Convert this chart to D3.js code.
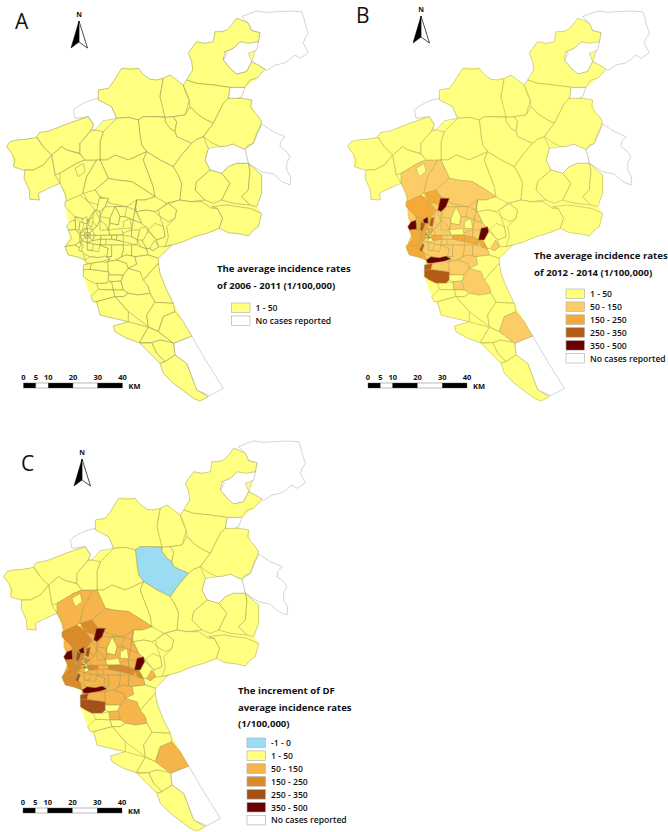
<!DOCTYPE html>
<html>
<head>
<meta charset="utf-8">
<script src="https://cdn.jsdelivr.net/npm/d3@7"></script>
<style>
  body { margin: 0; background: #fff; }
  text { font-family: "Open Sans", "Noto Sans", sans-serif; fill: #111; }
</style>
</head>
<body>
<div id="map"></div>
<script>
// map outlines, in map units (3 units = 1 px of panel A)
const landOutline = [[20,440],[30,425],[48,420],[75,418],[95,415],[112,410],[118,398],[150,392],[168,385],[200,372],[235,358],[265,348],[280,345],[295,300],[295,270],[325,265],[340,245],[352,225],[365,205],[385,200],[415,205],[428,222],[450,238],[490,235],[510,225],[530,240],[550,255],[560,240],[578,210],[575,185],[565,160],[590,125],[615,130],[640,125],[645,95],[680,90],[700,70],[710,55],[745,70],[755,92],[780,98],[775,125],[770,180],[795,208],[770,235],[735,262],[725,295],[755,300],[760,335],[785,365],[760,430],[735,448],[745,490],[785,525],[785,580],[770,620],[785,640],[775,680],[760,690],[745,708],[720,702],[685,698],[658,685],[640,695],[620,700],[585,710],[550,725],[515,735],[495,750],[475,775],[475,790],[480,820],[500,870],[520,910],[550,965],[575,1008],[520,1030],[525,1065],[560,1090],[575,1130],[590,1170],[625,1190],[600,1203],[580,1195],[560,1180],[520,1150],[490,1120],[480,1090],[450,1060],[420,1030],[380,1015],[345,995],[340,978],[385,965],[340,955],[300,945],[295,920],[272,890],[250,830],[258,790],[250,775],[205,765],[195,750],[215,690],[200,650],[200,605],[180,550],[145,565],[115,580],[118,600],[90,598],[88,570],[72,535],[75,510],[40,500],[35,460]];

const ringsNoCases = {
  whiteNE: [[725,50],[750,40],[770,33],[800,37],[830,35],[870,33],[905,35],[912,55],[915,70],[925,100],[915,115],[910,130],[925,158],[900,175],[885,165],[865,182],[850,190],[825,195],[800,212],[795,208],[755,185],[775,125],[780,98],[755,92],[745,70]],
  whiteHole: [[675,155],[700,145],[720,125],[775,125],[770,150],[745,160],[755,185],[740,215],[710,222],[690,205],[670,180]],
  lake: [[655,120],[665,118],[668,150],[682,160],[672,178],[660,150]],
  whiteGap: [[690,262],[735,262],[725,290],[700,300],[685,295]],
  whiteWest: [[220,330],[235,318],[260,305],[292,295],[315,305],[335,320],[350,355],[310,362],[285,390],[275,388],[280,372],[265,350],[225,355]],
  whiteEast: [[785,372],[805,385],[820,395],[855,410],[842,425],[840,440],[860,455],[870,470],[860,490],[860,510],[872,530],[870,555],[845,545],[820,522],[785,515],[745,490],[735,448],[760,430]],
  whiteMid: [[625,445],[660,440],[700,432],[735,448],[745,490],[710,490],[685,500],[665,520],[630,510],[615,480]],
  whiteSouth: [[522,1030],[575,1008],[620,1085],[670,1165],[630,1187],[590,1170],[575,1130],[560,1090],[525,1065]],
};

const ringsNorth = {
  topN: [[565,160],[575,145],[590,125],[615,130],[640,125],[645,95],[665,95],[680,90],[695,75],[710,55],[730,62],[745,70],[755,92],[780,98],[775,125],[745,130],[720,125],[700,145],[675,155],[670,180],[690,205],[710,222],[740,215],[755,185],[775,195],[795,208],[770,235],[750,240],[735,262],[690,262],[640,255],[590,250],[560,240],[578,210],[575,185]],
  p1: [[295,270],[325,265],[340,245],[352,225],[365,205],[390,208],[415,205],[428,222],[450,238],[470,240],[490,235],[485,262],[480,290],[490,320],[495,350],[430,350],[415,360],[385,352],[350,355],[335,320],[295,300]],
  p2: [[490,235],[510,225],[530,240],[550,255],[558,280],[568,300],[555,345],[520,350],[495,352],[480,290]],
  p3: [[560,240],[590,250],[640,255],[690,262],[685,295],[670,310],[655,340],[640,370],[620,360],[595,345],[570,320],[568,300],[550,255]],
  p4: [[495,352],[520,350],[530,365],[525,395],[510,385],[495,365]],
  p5: [[520,350],[555,345],[570,320],[595,345],[620,360],[640,370],[610,410],[590,418],[575,430],[550,420],[530,410],[525,395],[530,365]],
  p6: [[685,295],[725,295],[755,300],[752,320],[762,335],[775,350],[785,365],[778,385],[770,400],[760,430],[745,435],[735,448],[715,440],[700,432],[680,438],[660,440],[635,428],[610,410],[640,370],[655,340],[670,310]],
  blueCounty: [[415,360],[430,350],[460,350],[495,352],[495,365],[510,385],[525,395],[530,410],[575,430],[545,465],[520,500],[480,480],[440,455],[425,435],[420,405]],
  p8: [[350,355],[385,352],[415,360],[420,405],[425,435],[440,455],[385,480],[345,465],[320,480],[300,480],[300,425],[310,395]],
  p10: [[300,480],[320,480],[345,465],[385,480],[440,455],[430,480],[445,520],[460,560],[465,590],[435,570],[395,545],[350,540],[325,535]],
  p13: [[430,480],[440,455],[480,480],[520,500],[535,525],[545,550],[540,600],[500,610],[470,600],[465,590],[460,560],[445,520]],
  p14: [[520,500],[545,465],[575,430],[590,418],[610,410],[625,445],[615,480],[630,510],[590,545],[585,570],[615,600],[570,605],[540,600],[545,550],[535,525]],
  p15: [[630,510],[665,520],[690,550],[665,600],[640,610],[615,600],[585,570],[590,545]],
  p16: [[665,520],[685,500],[710,490],[745,490],[750,510],[745,570],[725,590],[750,615],[700,610],[665,600],[690,550]],
  p17: [[745,490],[785,525],[785,580],[770,620],[750,615],[725,590],[745,570],[750,510]],
};

const ringsWest = {
  w1: [[20,440],[30,425],[48,420],[75,418],[95,415],[110,412],[130,440],[155,465],[130,495],[100,510],[70,510],[40,500],[45,480],[35,460]],
  w2: [[110,410],[118,398],[150,392],[168,385],[200,372],[235,360],[265,350],[280,375],[270,395],[240,430],[240,460],[200,450],[185,440],[155,465],[130,440]],
  w3: [[155,465],[185,440],[200,450],[240,462],[255,480],[230,490],[180,520],[165,525]],
  w4: [[100,510],[130,495],[155,465],[165,525],[180,550],[145,565],[115,580],[118,600],[90,598],[88,570],[72,535],[75,510]],
  w5: [[180,520],[230,490],[255,480],[290,480],[260,530],[248,580],[235,590],[200,605],[195,580],[180,550]],
  enclave: [[225,505],[250,490],[255,515],[235,530]],
  w6: [[240,430],[270,395],[285,390],[310,395],[300,425],[300,480],[255,480],[240,460]],
  p11: [[290,480],[300,480],[325,535],[285,570],[285,590],[248,580],[260,530]],
  p12: [[285,570],[325,535],[350,540],[395,545],[435,570],[465,590],[435,600],[410,600],[380,620],[330,610],[300,590]],
};

const ringsEast = {
  y1: [[410,600],[435,600],[465,590],[500,610],[475,630],[465,635],[440,630],[410,635],[405,615]],
  y2: [[475,630],[505,610],[530,630],[525,655],[505,665],[480,650]],
  y3: [[410,635],[440,630],[465,635],[480,650],[490,680],[495,710],[470,720],[445,690],[425,670]],
  y4: [[445,690],[465,670],[490,680],[495,710],[470,720]],
  e2: [[540,600],[570,605],[605,605],[635,625],[652,625],[668,655],[658,685],[620,700],[585,710],[550,725],[515,735],[495,740],[505,710],[500,680],[525,655],[530,630],[505,610]],
  e1: [[635,620],[680,615],[715,620],[750,625],[785,640],[775,680],[760,690],[745,708],[720,702],[685,698],[658,685],[668,655],[652,625]],
};

const ringsCentre = {
  ground: [[200,605],[285,575],[330,610],[410,600],[405,630],[425,670],[445,690],[430,720],[440,745],[445,765],[405,770],[410,793],[385,805],[370,825],[325,825],[250,810],[255,780],[205,765],[195,745],[215,690],[200,650]],
  n1: [[195,605],[240,585],[265,605],[285,630],[265,660],[225,650],[195,620]],
  n2: [[250,580],[285,570],[300,590],[295,615],[265,605]],
  n5: [[298,590],[330,610],[380,620],[345,620],[330,655],[325,690],[300,660],[300,635],[315,620],[325,597]],
  n5b: [[315,620],[345,620],[330,655],[300,650]],
  n7: [[380,620],[410,600],[405,630],[400,660],[375,650],[360,650],[345,620]],
  n7b: [[380,620],[405,630],[400,660],[375,650]],
  n8: [[410,600],[405,630],[425,670],[400,660]],
  yellowA: [[330,655],[345,620],[360,650],[355,675],[330,670]],
  k1: [[330,670],[355,675],[360,650],[375,650],[400,660],[395,690],[365,700],[325,690]],
  yellowB: [[370,665],[390,655],[395,685],[370,685]],
  yellowC: [[325,690],[365,685],[370,705],[330,705]],
  k4: [[400,660],[425,670],[445,690],[420,690],[412,720],[395,710],[395,690]],
  h10: [[395,690],[420,690],[412,720],[395,710]],
  a1: [[225,650],[265,660],[258,690],[240,700],[227,690]],
  h3: [[225,650],[240,665],[237,690],[227,690]],
  a2: [[205,690],[227,688],[240,705],[240,725],[225,735],[195,740],[215,715]],
  a3: [[265,660],[285,630],[300,635],[300,660],[290,680],[275,690],[258,690]],
  h1: [[265,660],[275,690],[258,690]],
  h2: [[285,630],[300,660],[290,680],[275,660]],
  a4: [[275,690],[290,680],[300,660],[325,690],[330,705],[302,706],[284,706]],
  h4: [[300,660],[315,672],[325,690],[300,690]],
  band1: [[302,706],[335,706],[335,718],[302,718]],
  band2: [[335,706],[370,705],[395,710],[412,720],[411,735],[370,725],[335,718]],
  h6: [[335,706],[350,706],[350,720],[335,718]],
  h7: [[350,706],[370,705],[370,725],[350,720]],
  band3: [[302,718],[335,718],[370,725],[370,735],[300,735],[284,728]],
  h5: [[302,718],[318,718],[318,735],[300,735]],
  b1: [[262,728],[300,735],[325,745],[320,770],[295,773],[270,770],[250,760],[240,745],[246,722]],
  b1b: [[262,728],[300,735],[295,755],[262,750]],
  h8: [[262,728],[280,730],[278,750],[262,750]],
  h9: [[225,735],[240,725],[246,745],[240,745]],
  b2: [[300,735],[335,735],[335,770],[320,770],[325,745]],
  b2b: [[335,735],[370,735],[370,750],[365,770],[350,780],[323,785],[330,777],[320,770],[335,770]],
  b3: [[370,735],[395,735],[395,768],[380,765],[365,770],[370,750]],
  b3b: [[395,735],[411,735],[424,742],[439,745],[445,765],[405,770],[395,768]],
  b4: [[439,745],[449,745],[459,752],[476,740],[495,740],[515,735],[475,775],[445,765]],
  lowerWest: [[195,740],[225,735],[240,745],[250,760],[255,780],[230,770],[205,765]],
  yellowEdge: [[424,718],[445,695],[470,720],[476,740],[459,752],[449,745],[439,745]],
  pinkEast: [[449,745],[464,720],[476,740],[459,752]],
  stripEast: [[411,720],[424,718],[439,745],[424,742]],
  darkNorth: [[290,630],[298,595],[325,595],[315,620],[300,635]],
  darkWest: [[200,680],[210,665],[225,660],[227,688],[205,690]],
  darkSmall: [[245,660],[260,650],[262,670],[250,670]],
  darkEast: [[412,720],[420,685],[440,680],[443,695],[430,720]],
  brownA: [[240,665],[253,670],[245,695],[237,690]],
  brownB: [[270,655],[280,652],[275,680],[265,677]],
  brownC: [[235,750],[245,730],[250,735],[243,755]],
};

// dense city districts around the river mouth
const ringsCity = {
  c0: [[262,706],[272,706],[269,699]], c1: [[262,706],[269,699],[262,696]],
  c2: [[262,706],[262,696],[255,699]], c3: [[262,706],[255,699],[252,706]],
  c4: [[262,706],[252,706],[255,713]], c5: [[262,706],[255,713],[262,716]],
  c6: [[262,706],[262,716],[269,713]], c7: [[262,706],[269,713],[272,706]],
  d0: [[272,706],[284,706],[278,690],[269,699]], d1: [[269,699],[278,690],[262,684],[262,696]],
  d2: [[262,696],[262,684],[246,690],[255,699]], d3: [[255,699],[246,690],[240,706],[252,706]],
  d4: [[252,706],[240,706],[246,722],[255,713]], d5: [[255,713],[246,722],[262,728],[262,716]],
  d6: [[262,716],[262,728],[278,722],[269,713]], d7: [[269,713],[278,722],[284,706],[272,706]],
  f0: [[284,706],[302,706],[302,718],[278,722]], f1: [[278,722],[302,718],[300,735],[262,728]],
  f2: [[246,690],[262,684],[258,690],[240,700]], f3: [[240,706],[246,722],[240,725]],
};

const ringsSouth = {
  s1: [[255,780],[270,770],[295,773],[315,768],[330,777],[305,785],[275,790],[260,790]],
  s2: [[250,795],[275,790],[270,810],[250,810]],
  s3: [[250,810],[270,808],[325,815],[325,840],[315,850],[285,850],[265,840],[250,830]],
  s4: [[275,790],[305,785],[325,787],[325,815],[270,808]],
  s5: [[323,785],[350,780],[380,790],[385,805],[370,825],[330,825],[325,815]],
  s6: [[350,780],[365,770],[380,765],[405,770],[410,793],[385,805],[380,790]],
  s7: [[325,825],[370,825],[363,843],[335,845],[325,840]],
  s8: [[290,850],[315,850],[335,845],[340,870],[295,868]],
  s9: [[335,845],[363,843],[370,870],[340,870]],
  m3: [[370,825],[385,805],[420,815],[445,860],[450,880],[415,885],[385,880],[370,870],[363,843]],
  s10: [[272,890],[295,868],[340,870],[345,890],[290,905],[280,905]],
  s11: [[340,870],[370,870],[385,880],[370,890],[345,890]],
  m6: [[405,770],[445,765],[475,775],[475,790],[430,840],[420,815],[385,805],[410,793]],
  longE: [[430,840],[475,790],[480,820],[500,870],[520,910],[465,907],[450,880],[445,860]],
  l3: [[345,890],[370,890],[385,880],[415,885],[450,880],[465,907],[440,945],[445,980],[385,935]],
  l2: [[290,905],[345,890],[385,935],[385,965],[340,955],[300,945]],
  l4: [[340,978],[385,965],[445,982],[418,1028],[380,1015],[345,995]],
  l5: [[465,907],[520,910],[525,935],[490,950],[475,995],[445,980],[440,945]],
  l6: [[490,950],[525,935],[550,965],[575,1008],[520,1030],[475,995]],
  l7: [[418,1028],[445,982],[475,995],[520,1030],[480,1020],[455,1028]],
  l8: [[455,1028],[480,1020],[520,1028],[525,1065],[495,1085],[470,1060]],
  l9: [[420,1030],[455,1028],[470,1060],[495,1085],[480,1090],[450,1060]],
  tip: [[480,1090],[495,1085],[525,1065],[560,1090],[575,1130],[590,1170],[625,1190],[600,1203],[580,1195],[560,1180],[520,1150],[490,1120]],
};

// incidence bands per panel
const ids50to150 = ["ground", "w5", "p11", "p12", "n5", "n5b", "n7", "n7b", "n8", "k1", "k4", "h10", "a3", "a4", "h1", "h2", "h4", "h5", "h8", "band1", "band3", "b1", "b1b", "b2", "b2b", "b3", "b3b", "s4", "s5", "s6", "s9", "m3", "l6", "pinkEast", "d0", "d2", "d5", "f1"];
const ids150to250 = ["n1", "n2", "a1", "a2", "h3", "h6", "h7", "h9", "lowerWest", "band2", "stripEast", "d1", "d3", "d4", "d7", "f0", "f2", "f3", "c1", "c5"];
const ids250to350 = ["brownA", "brownB", "brownC", "s2", "s3", "c3", "c6"];
const ids350to500 = ["darkNorth", "darkWest", "darkSmall", "darkEast", "s1"];
const idsBelowZero = ["blueCounty"];

const labelsA = ["1 - 50", "No cases reported"];
const labelsB = ["1 - 50", "50 - 150", "150 - 250", "250 - 350", "350 - 500", "No cases reported"];
const labelsC = ["-1 - 0", "1 - 50", "50 - 150", "150 - 250", "250 - 350", "350 - 500", "No cases reported"];
const scaleTicks = [0, 5, 10, 20, 30, 40];

const colorsB = d3.scaleOrdinal()
  .domain(labelsB)
  .range(["#ffff80", "#fccd66", "#f5a938", "#b55c14", "#6a0000", "#ffffff"]);
const colorsC = d3.scaleOrdinal()
  .domain(labelsC)
  .range(["#9adcf2", "#ffff80", "#f7b44a", "#d98a2b", "#a3501a", "#6a0000", "#ffffff"]);

const allRings = Object.assign({}, ringsNoCases, ringsNorth, ringsWest, ringsEast,
  ringsCentre, ringsCity, ringsSouth);

function bandB(id) {
  if (id in ringsNoCases) return "No cases reported";
  if (ids350to500.includes(id)) return "350 - 500";
  if (ids250to350.includes(id)) return "250 - 350";
  if (ids150to250.includes(id)) return "150 - 250";
  if (ids50to150.includes(id)) return "50 - 150";
  return "1 - 50";
}

const features = Object.keys(allRings).map((id) => ({
  type: "Feature",
  id: id,
  geometry: { type: "Polygon", coordinates: [allRings[id].concat([allRings[id][0]])] },
}));

const panels = [
  {
    letter: "A", letterX: 15, letterY: 28.5, dx: 0, dy: 0,
    band: (id) => (id in ringsNoCases ? "No cases reported" : "1 - 50"),
    color: colorsB, edge: "#8f8c55",
    north: [79, 21], bar: [23.5, 122.5, 383],
    title: ["The average incidence rates", "of 2006 - 2011 (1/100,000)"], titleX: 217, titleY: 272, titleStep: 16.5,
    labels: labelsA, swatchX: 231.5, swatchY: 303, swatchStep: 13,
  },
  {
    letter: "B", letterX: 356, letterY: 23, dx: 341, dy: 0,
    band: bandB,
    color: colorsB, edge: "#b0a45c",
    north: [421, 16], bar: [368, 467, 383],
    title: ["The average incidence rates", "of 2012 - 2014 (1/100,000)"], titleX: 534, titleY: 259, titleStep: 16.5,
    labels: labelsB, swatchX: 566, swatchY: 289, swatchStep: 12.9,
  },
  {
    letter: "C", letterX: 21, letterY: 470.5, dx: -3, dy: 430,
    band: (id) => (idsBelowZero.includes(id) ? "-1 - 0" : bandB(id)),
    color: colorsC, edge: "#a69a58",
    north: [82, 459], bar: [23, 122, 808],
    title: ["The increment of DF", "average incidence rates", "(1/100,000)"], titleX: 238, titleY: 694, titleStep: 16.6,
    labels: labelsC, swatchX: 247, swatchY: 738, swatchStep: 12.9,
  },
];

const svg = d3.select("#map").append("svg").attr("width", 668).attr("height", 832);

function drawPanel(p) {
  const g = svg.append("g");

  const projection = d3.geoIdentity().scale(1 / 3).translate([p.dx, p.dy]);
  const path = d3.geoPath(projection);

  // yellow ground so no slits show between counties
  g.append("path")
    .attr("d", path({ type: "Polygon", coordinates: [landOutline.concat([landOutline[0]])] }))
    .attr("fill", p.color("1 - 50"));

  g.selectAll("path.region")
    .data(features)
    .enter()
    .append("path")
    .attr("class", "region")
    .attr("d", path)
    .attr("fill", (d) => p.color(p.band(d.id)))
    .attr("stroke", (d) => (d.id === "ground" ? "none" : d.id in ringsNoCases ? "#a8a8a8" : p.edge))
    .attr("stroke-width", 0.5)
    .attr("stroke-linejoin", "round");

  g.append("text").attr("x", p.letterX).attr("y", p.letterY)
    .attr("font-size", 21).text(p.letter);

  // north arrow
  const [nx, ny] = p.north;
  g.append("text").attr("x", nx).attr("y", ny - 4).attr("text-anchor", "middle")
    .attr("font-size", 7).attr("font-weight", 700).text("N");
  g.append("path").attr("d", `M${nx},${ny}L${nx - 8},${ny + 27}L${nx},${ny + 21}Z`).attr("fill", "#000").attr("stroke", "#000").attr("stroke-width", 0.5);
  g.append("path").attr("d", `M${nx},${ny}L${nx + 8.5},${ny + 27}L${nx},${ny + 21}Z`).attr("fill", "#fff").attr("stroke", "#000").attr("stroke-width", 0.7);

  // scale bar
  const km = d3.scaleLinear().domain([0, 40]).range([p.bar[0], p.bar[1]]);
  const pairs = d3.pairs(scaleTicks);
  g.selectAll("rect.km").data(pairs).enter().append("rect")
    .attr("class", "km")
    .attr("x", (d) => km(d[0]))
    .attr("y", p.bar[2])
    .attr("width", (d) => km(d[1]) - km(d[0]))
    .attr("height", 5)
    .attr("fill", (d, i) => (i % 2 ? "#fff" : "#000"))
    .attr("stroke", "#555")
    .attr("stroke-width", 0.4);
  g.selectAll("text.km").data(scaleTicks).enter().append("text")
    .attr("class", "km")
    .attr("x", (d) => km(d))
    .attr("y", p.bar[2] - 3)
    .attr("text-anchor", "middle")
    .attr("font-size", 7.5)
    .attr("font-weight", 700)
    .text((d) => d);
  g.append("text").attr("x", km(40) + 6).attr("y", p.bar[2] + 6)
    .attr("font-size", 7.5).attr("font-weight", 700).text("KM");

  // legend
  g.selectAll("text.title").data(p.title).enter().append("text")
    .attr("class", "title")
    .attr("x", p.titleX)
    .attr("y", (d, i) => p.titleY + i * p.titleStep)
    .attr("font-size", 9.6)
    .attr("font-weight", 700)
    .text((d) => d);
  const rows = g.selectAll("g.row").data(p.labels).enter().append("g")
    .attr("class", "row")
    .attr("transform", (d, i) => `translate(${p.swatchX},${p.swatchY + i * p.swatchStep})`);
  rows.append("rect").attr("width", 18.5).attr("height", 9.5)
    .attr("fill", (d) => p.color(d)).attr("stroke", "#aaa").attr("stroke-width", 0.6);
  rows.append("text").attr("x", 24).attr("y", 8)
    .attr("font-size", 8.6).attr("font-weight", 600).text((d) => d);
}

panels.forEach(drawPanel);
</script>
</body>
</html>
